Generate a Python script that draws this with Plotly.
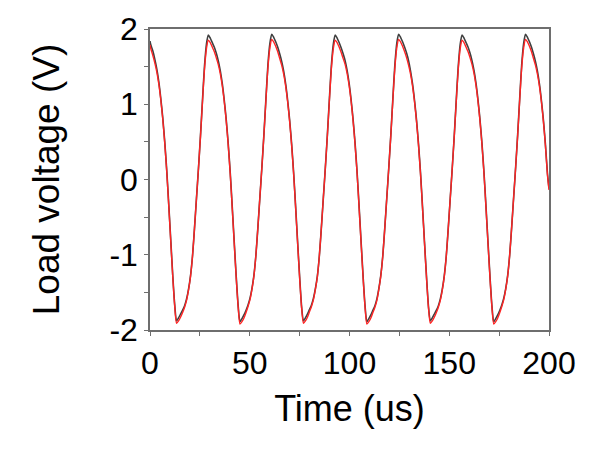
import plotly.graph_objects as go

# Time samples (us)
t_us = [
    0.0, 0.4, 1.4, 2.4, 3.4, 4.4, 5.4, 6.4, 7.4, 8.4, 9.4, 10.4, 11.4, 12.4,
    13.3, 14.3, 15.3, 16.3, 17.3, 18.3, 19.3, 20.3, 21.3, 22.3, 23.3, 24.3, 25.3, 26.3, 27.3, 28.3,
    29.2, 30.2, 31.2, 32.2, 33.2, 34.2, 35.2, 36.2, 37.2, 38.2, 39.2, 40.2, 41.2, 42.2, 43.2, 44.2,
    45.1, 46.1, 47.1, 48.1, 49.1, 50.1, 51.1, 52.1, 53.1, 54.1, 55.1, 56.1, 57.1, 58.1, 59.1, 60.1,
    61.0, 62.0, 63.0, 64.0, 65.0, 66.0, 67.0, 68.0, 69.0, 70.0, 71.0, 72.0, 73.0, 74.0, 75.0, 76.0,
    76.9, 77.9, 78.9, 79.9, 80.9, 81.9, 82.9, 83.9, 84.9, 85.9, 86.9, 87.9, 88.9, 89.9, 90.9, 91.9,
    92.8, 93.8, 94.8, 95.8, 96.8, 97.8, 98.8, 99.8, 100.8, 101.8, 102.8, 103.8, 104.8, 105.8, 106.8, 107.8,
    108.7, 109.7, 110.7, 111.7, 112.7, 113.7, 114.7, 115.7, 116.7, 117.7, 118.7, 119.7, 120.7, 121.7, 122.7, 123.7,
    124.6, 125.6, 126.6, 127.6, 128.6, 129.6, 130.6, 131.6, 132.6, 133.6, 134.6, 135.6, 136.6, 137.6, 138.6, 139.6,
    140.5, 141.5, 142.5, 143.5, 144.5, 145.5, 146.5, 147.5, 148.5, 149.5, 150.5, 151.5, 152.5, 153.5, 154.5, 155.5,
    156.4, 157.4, 158.4, 159.4, 160.4, 161.4, 162.4, 163.4, 164.4, 165.4, 166.4, 167.4, 168.4, 169.4, 170.4, 171.4,
    172.3, 173.3, 174.3, 175.3, 176.3, 177.3, 178.3, 179.3, 180.3, 181.3, 182.3, 183.3, 184.3, 185.3, 186.3, 187.3,
    188.2, 189.2, 190.2, 191.2, 192.2, 193.2, 194.2, 195.2, 196.2, 197.2, 198.2, 199.2, 200.0,
]

# Load voltage, dark (gray) trace (V)
v_gray = [
    1.84, 1.79, 1.71, 1.60, 1.47, 1.30, 1.08, 0.82, 0.50, 0.12, -0.33, -0.80, -1.27, -1.67,
    -1.88, -1.84, -1.79, -1.74, -1.68, -1.59, -1.46, -1.28, -1.02, -0.65, -0.25, 0.15, 0.58, 1.05, 1.50, 1.80,
    1.92, 1.88, 1.82, 1.76, 1.68, 1.58, 1.45, 1.28, 1.06, 0.80, 0.48, 0.10, -0.35, -0.82, -1.28, -1.68,
    -1.89, -1.85, -1.80, -1.74, -1.67, -1.58, -1.45, -1.27, -1.00, -0.63, -0.23, 0.17, 0.60, 1.07, 1.52, 1.81,
    1.93, 1.89, 1.83, 1.76, 1.67, 1.57, 1.44, 1.27, 1.05, 0.79, 0.47, 0.09, -0.36, -0.83, -1.29, -1.69,
    -1.88, -1.84, -1.79, -1.73, -1.67, -1.58, -1.45, -1.28, -1.01, -0.64, -0.24, 0.16, 0.59, 1.06, 1.51, 1.80,
    1.92, 1.88, 1.82, 1.75, 1.67, 1.58, 1.45, 1.28, 1.06, 0.80, 0.48, 0.10, -0.35, -0.82, -1.28, -1.68,
    -1.89, -1.85, -1.80, -1.74, -1.68, -1.59, -1.45, -1.27, -1.01, -0.64, -0.24, 0.16, 0.59, 1.06, 1.51, 1.81,
    1.93, 1.89, 1.83, 1.76, 1.68, 1.58, 1.44, 1.27, 1.05, 0.79, 0.47, 0.09, -0.36, -0.83, -1.29, -1.69,
    -1.88, -1.84, -1.79, -1.74, -1.68, -1.59, -1.46, -1.28, -1.02, -0.65, -0.25, 0.15, 0.58, 1.05, 1.50, 1.80,
    1.92, 1.88, 1.82, 1.76, 1.68, 1.58, 1.45, 1.28, 1.06, 0.80, 0.48, 0.10, -0.35, -0.82, -1.28, -1.68,
    -1.89, -1.85, -1.80, -1.74, -1.67, -1.58, -1.45, -1.27, -1.00, -0.63, -0.23, 0.17, 0.60, 1.07, 1.52, 1.81,
    1.93, 1.89, 1.83, 1.76, 1.67, 1.57, 1.44, 1.27, 1.05, 0.79, 0.47, 0.09, -0.12,
]

# Load voltage, red trace (V)
v_red = [
    1.79, 1.74, 1.65, 1.55, 1.43, 1.27, 1.06, 0.80, 0.48, 0.10, -0.35, -0.82, -1.29, -1.69,
    -1.91, -1.88, -1.83, -1.77, -1.70, -1.61, -1.47, -1.29, -1.02, -0.65, -0.25, 0.15, 0.57, 1.03, 1.46, 1.74,
    1.85, 1.82, 1.76, 1.70, 1.62, 1.53, 1.41, 1.25, 1.04, 0.78, 0.46, 0.08, -0.37, -0.84, -1.30, -1.70,
    -1.92, -1.89, -1.84, -1.77, -1.69, -1.60, -1.46, -1.28, -1.00, -0.63, -0.23, 0.17, 0.59, 1.05, 1.48, 1.75,
    1.86, 1.83, 1.77, 1.70, 1.61, 1.52, 1.40, 1.24, 1.03, 0.77, 0.45, 0.07, -0.38, -0.85, -1.31, -1.71,
    -1.91, -1.88, -1.83, -1.76, -1.69, -1.60, -1.46, -1.29, -1.01, -0.64, -0.24, 0.16, 0.58, 1.04, 1.47, 1.74,
    1.85, 1.82, 1.76, 1.69, 1.61, 1.53, 1.41, 1.25, 1.04, 0.78, 0.46, 0.08, -0.37, -0.84, -1.30, -1.70,
    -1.92, -1.89, -1.84, -1.77, -1.70, -1.61, -1.46, -1.28, -1.01, -0.64, -0.24, 0.16, 0.58, 1.04, 1.47, 1.75,
    1.86, 1.83, 1.77, 1.70, 1.62, 1.52, 1.40, 1.24, 1.03, 0.77, 0.45, 0.07, -0.38, -0.85, -1.31, -1.71,
    -1.91, -1.88, -1.83, -1.77, -1.70, -1.61, -1.47, -1.29, -1.02, -0.65, -0.25, 0.15, 0.57, 1.03, 1.46, 1.74,
    1.85, 1.82, 1.76, 1.70, 1.62, 1.53, 1.41, 1.25, 1.04, 0.78, 0.46, 0.08, -0.37, -0.84, -1.30, -1.70,
    -1.92, -1.89, -1.84, -1.77, -1.69, -1.60, -1.46, -1.28, -1.00, -0.63, -0.23, 0.17, 0.59, 1.05, 1.48, 1.75,
    1.86, 1.83, 1.77, 1.70, 1.61, 1.52, 1.40, 1.24, 1.03, 0.77, 0.45, 0.07, -0.14,
]

x_tick_vals = [0, 50, 100, 150, 200]
x_tick_text = ["0", "50", "100", "150", "200"]
y_tick_vals = [-2, -1, 0, 1, 2]
y_tick_text = ["-2", "-1", "0", "1", "2"]

AXIS_COLOR = "#6e6e6e"
FONT = "Liberation Sans, Arial, Helvetica, sans-serif"

fig = go.Figure()
fig.add_trace(go.Scatter(x=t_us, y=v_gray, mode="lines", name="gray",
                         line=dict(color="#404040", width=1.6, shape="spline", smoothing=0.6)))
fig.add_trace(go.Scatter(x=t_us, y=v_red, mode="lines", name="red",
                         line=dict(color="#ff2424", width=1.4, shape="spline", smoothing=0.6)))

axis_common = dict(
    showline=True, linecolor=AXIS_COLOR, linewidth=1.5, mirror=True,
    ticks="outside", ticklen=4, tickwidth=1.2, tickcolor=AXIS_COLOR,
    showgrid=False, zeroline=False,
    tickfont=dict(size=32, family=FONT, color="black"),
)

fig.update_layout(
    width=600, height=450,
    margin=dict(l=150, r=51, t=29, b=120),
    paper_bgcolor="white", plot_bgcolor="white",
    showlegend=False,
    font=dict(family=FONT, color="black"),
    xaxis=dict(range=[0, 200], tickvals=x_tick_vals, ticktext=x_tick_text,
               minor=dict(dtick=25, ticks="outside", ticklen=4, tickwidth=1.2,
                          tickcolor=AXIS_COLOR, showgrid=False),
               title=dict(text="Time (us)", font=dict(size=36, family=FONT, color="black"),
                          standoff=16),
               **axis_common),
    yaxis=dict(range=[-2, 2], tickvals=y_tick_vals, ticktext=y_tick_text,
               minor=dict(dtick=0.5, ticks="outside", ticklen=4, tickwidth=1.2,
                          tickcolor=AXIS_COLOR, showgrid=False),
               title=dict(text="Load voltage (V)", font=dict(size=37, family=FONT, color="black"),
                          standoff=38),
               **axis_common),
)

fig.write_html("out.html")
